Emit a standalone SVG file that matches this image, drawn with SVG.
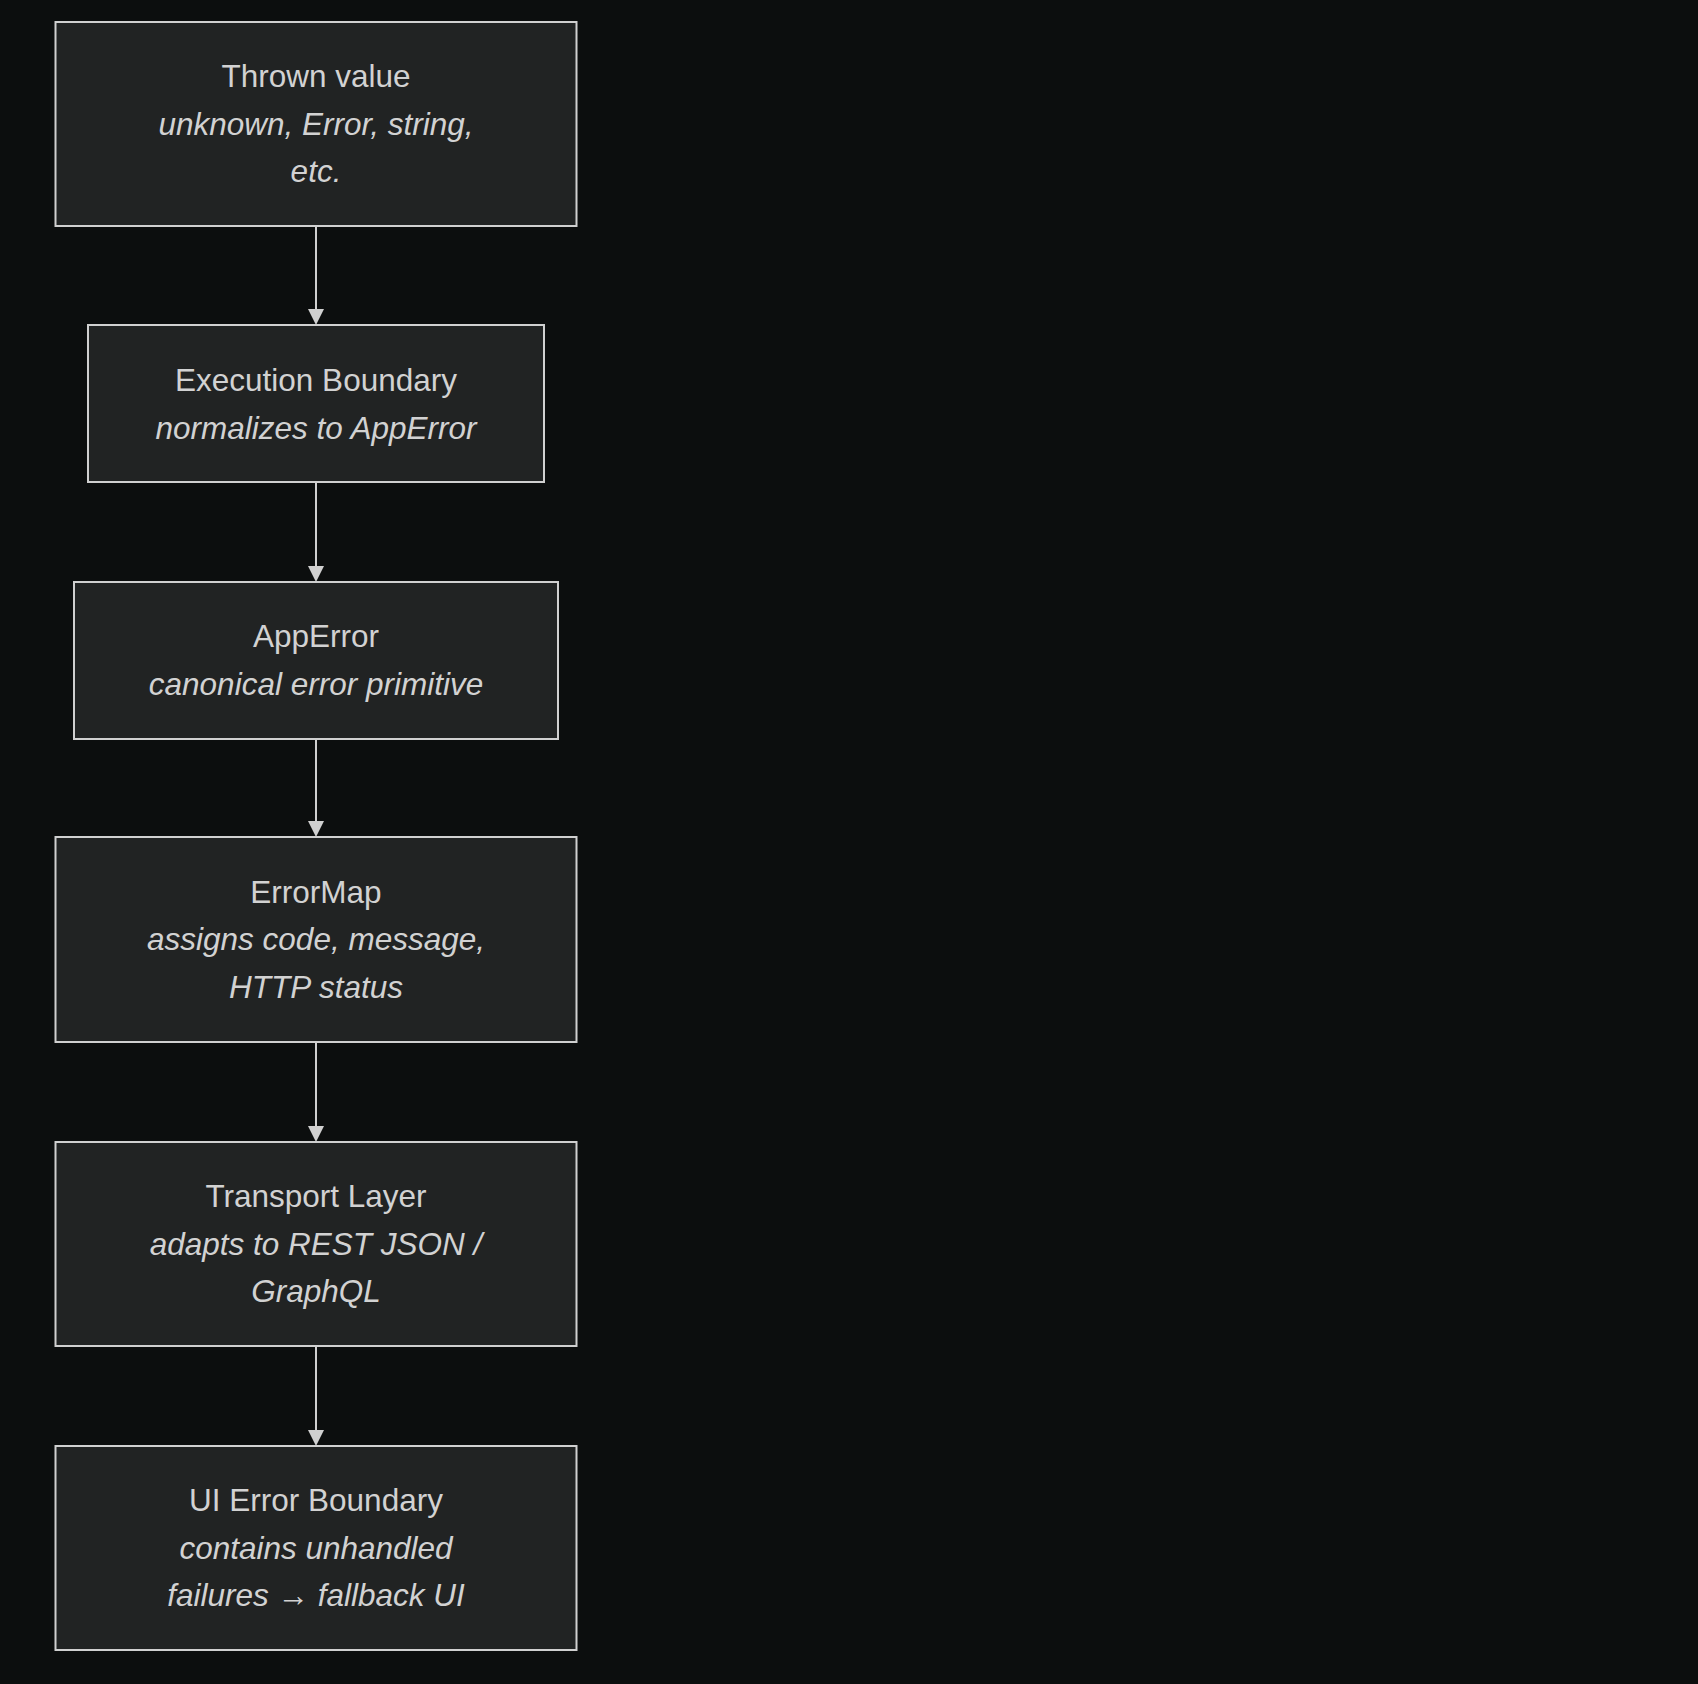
<svg xmlns="http://www.w3.org/2000/svg" width="1698" height="1684" viewBox="0 0 1698 1684">
<style>
.bg{fill:#0c0e0e}
.node rect{fill:#212323;stroke:#d0d0d0;stroke-width:2}
.node text{font-family:"Liberation Sans",Arial,sans-serif;font-size:31.5px;fill:#d2d2d2;text-anchor:middle;dominant-baseline:central}
.node .i{font-style:italic}
.edge{stroke:#d0d0d0;stroke-width:2;fill:none}
</style>
<defs>
<marker id="arr" viewBox="0 0 10 10" refX="10" refY="5" markerWidth="8" markerHeight="8" markerUnits="userSpaceOnUse" orient="auto">
<path d="M0,0 L10,5 L0,10 z" fill="#d0d0d0"/>
</marker>
</defs>
<rect class="bg" x="0" y="0" width="1698" height="1684"/>
<g id="connectors">
<path class="edge" d="M316,226 V309"/>
<path d="M308,309 L316,325 L324,309 z" fill="#d0d0d0"/>
<path class="edge" d="M316,482 V566"/>
<path d="M308,566 L316,582 L324,566 z" fill="#d0d0d0"/>
<path class="edge" d="M316,739 V821"/>
<path d="M308,821 L316,837 L324,821 z" fill="#d0d0d0"/>
<path class="edge" d="M316,1042 V1126"/>
<path d="M308,1126 L316,1142 L324,1126 z" fill="#d0d0d0"/>
<path class="edge" d="M316,1346 V1430"/>
<path d="M308,1430 L316,1446 L324,1430 z" fill="#d0d0d0"/>
</g>
<g id="thrown" class="node">
<rect x="55.5" y="22" width="521" height="204"/>
<text x="316" y="76">Thrown value</text>
<text class="i" x="316" y="123.5">unknown, Error, string,</text>
<text class="i" x="316" y="171">etc.</text>
</g>
<g id="execution" class="node">
<rect x="88" y="325" width="456" height="157"/>
<text x="316" y="380">Execution Boundary</text>
<text class="i" x="316" y="428">normalizes to AppError</text>
</g>
<g id="apperror" class="node">
<rect x="74" y="582" width="484" height="157"/>
<text x="316" y="636">AppError</text>
<text class="i" x="316" y="683.5">canonical error primitive</text>
</g>
<g id="errormap" class="node">
<rect x="55.5" y="837" width="521" height="205"/>
<text x="316" y="891.5">ErrorMap</text>
<text class="i" x="316" y="939">assigns code, message,</text>
<text class="i" x="316" y="986.5">HTTP status</text>
</g>
<g id="transport" class="node">
<rect x="55.5" y="1142" width="521" height="204"/>
<text x="316" y="1196">Transport Layer</text>
<text class="i" x="316" y="1243.5">adapts to REST JSON /</text>
<text class="i" x="316" y="1291">GraphQL</text>
</g>
<g id="uiboundary" class="node">
<rect x="55.5" y="1446" width="521" height="204"/>
<text x="316" y="1500">UI Error Boundary</text>
<text class="i" x="316" y="1547.5">contains unhandled</text>
<text class="i" x="316" y="1595">failures → fallback UI</text>
</g>
</svg>
